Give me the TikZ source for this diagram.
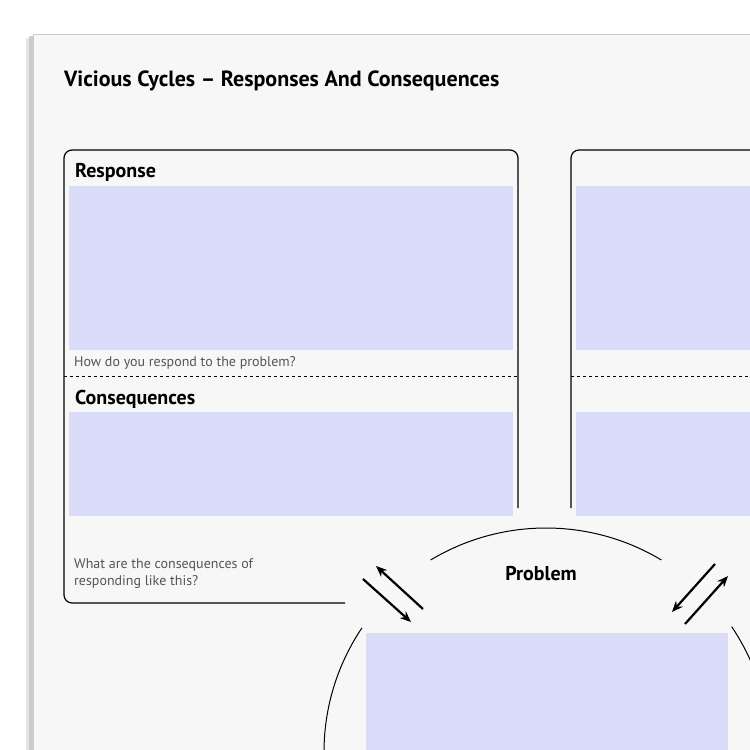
\documentclass[tikz,border=0pt]{standalone}
\usepackage{fontspec}
\setmainfont{PT Sans}
\usetikzlibrary{calc,positioning,arrows.meta}
\definecolor{answer}{HTML}{D8DCF8}
\definecolor{paper}{HTML}{F7F7F7}
\definecolor{hint}{HTML}{555555}

\begin{document}
\begin{tikzpicture}[x=1pt,y=-1pt,
  every node/.style={inner sep=0pt, anchor=base west},
  head/.style={font=\bfseries\fontsize{20}{24}\selectfont},
  note/.style={font=\fontsize{14}{17}\selectfont, text=hint, align=left},
  frame/.style={line width=1.2pt, rounded corners=8pt},
  swap/.style={line width=2.2pt, -{Stealth[length=11pt,width=9pt]}}]
  \useasboundingbox (0,0) rectangle (750,750);
  \fill[white] (0,0) rectangle (750,750);
  % page and its shadow
  \fill[gray!40] (29,36) rectangle (33,750);
  \fill[gray!20] (26,38) rectangle (29,750);
  \fill[paper] (33,34) rectangle (750,750);
  \draw[gray!40, line width=0.6pt] (33,750) -- (33,34) -- (750,34);
  \node[font=\bfseries\fontsize{22}{26}\selectfont] (title) at (64,86) {Vicious Cycles – Responses And Consequences};
  % answer fields
  \fill[answer] (69,186) rectangle (513,350);
  \fill[answer] (69,412) rectangle (513,516);
  \fill[answer] (576,186) rectangle (750,350);
  \fill[answer] (576,412) rectangle (750,516);
  \fill[answer] (366,633) rectangle (728,750);
  % left frame
  \draw[frame] (345,603) -- (64,603) -- (64,150) -- (518,150) -- (518,508);
  \draw[dashed, line width=1pt] (64,376) -- (518,376);
  % right frame
  \draw[frame] (571,508) -- (571,150) -- (770,150);
  \draw[dashed, line width=1pt] (571,376) -- (750,376);
  \node[head] (resp) at (75,177) {Response};
  \node[note] (respq) at (74,366) {How do you respond to the problem?};
  \node[head] (cons) at (75,404) {Consequences};
  \node[note, anchor=north west] (consq) at (74,558) {What are the consequences of\\responding like this?};
  % problem circle
  \coordinate (mid) at (546,752);
  \draw[line width=1pt] ($(mid)+(121:224pt)$) arc[start angle=121, end angle=59, radius=224pt];
  \draw[line width=1pt] ($(mid)+(146:222pt)$) arc[start angle=146, end angle=180, radius=222pt];
  \draw[line width=1pt] ($(mid)+(34:224pt)$) arc[start angle=34, end angle=0, radius=224pt];
  \node[head, anchor=base] (prob) at (541,580) {Problem};
  % arrows
  \coordinate (l1a) at (363,579); \coordinate (l1b) at (411,622);
  \coordinate (l2a) at (423,609); \coordinate (l2b) at (376,566);
  \coordinate (r1a) at (715,564); \coordinate (r1b) at (672,612);
  \coordinate (r2a) at (685,624); \coordinate (r2b) at (728,576);
  \draw[swap] (l1a) -- (l1b);
  \draw[swap] (l2a) -- (l2b);
  \draw[swap] (r1a) -- (r1b);
  \draw[swap] (r2a) -- (r2b);
\end{tikzpicture}
\end{document}
